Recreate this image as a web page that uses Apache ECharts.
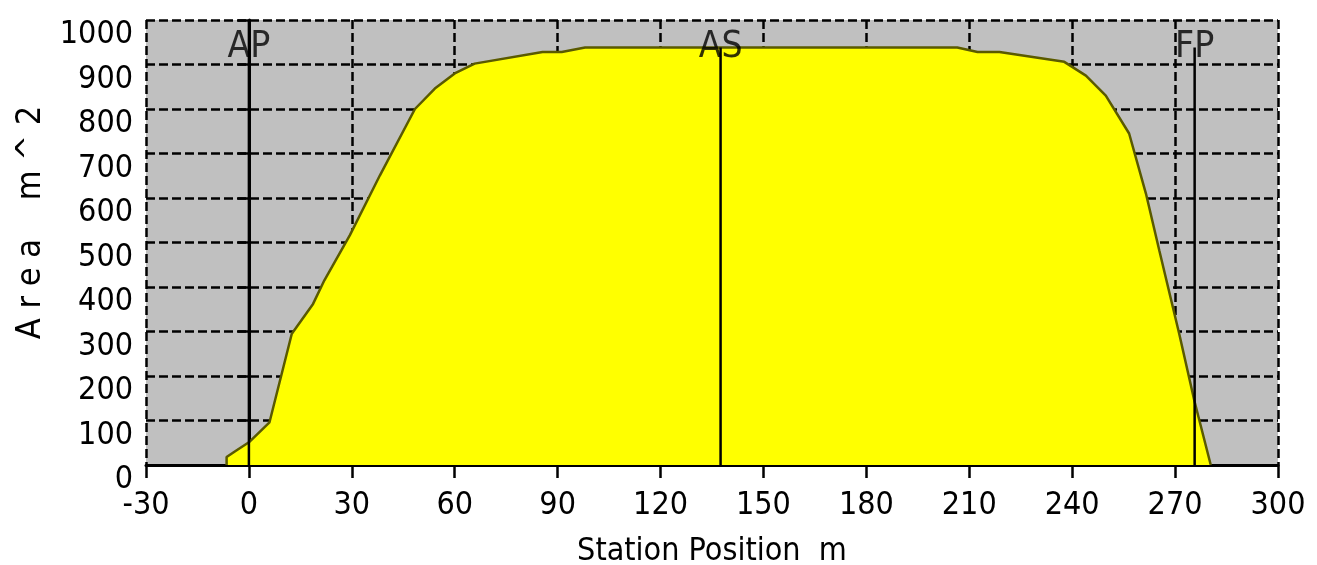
<!DOCTYPE html>
<html>
<head>
<meta charset="utf-8">
<script src="https://cdn.jsdelivr.net/npm/echarts@6/dist/echarts.min.js"></script>
<style>html,body{margin:0;padding:0;background:#fff}#c{width:1317px;height:565px}</style>
</head>
<body>
<div id="c"></div>
<script>
// Area curve: station position (m) and sectional area (m^2)
const stationX = [-6.5, -6.5, -4, 0, 6, 12.5, 18.7, 22, 29.4, 38.2, 48.4, 54.2, 60, 65.8, 85.6, 91.2, 98, 206.5, 212.4, 218.8, 237.7, 244, 249.8, 256.6, 261.5, 265.4, 271.2, 275.6, 280.4];
const areaY    = [0, 18, 31, 51, 96, 295, 362, 415, 516, 651, 800, 846, 880, 902, 928, 928, 938, 938, 928, 928, 906, 875, 830, 745, 610, 482, 295, 145, 0];
// Reference markers
const markerNames = ['AP', 'AS', 'FP'];
const markerX     = [0, 137.5, 275.7];
const markerTop   = [1000, 938, 938];
const markerLabelY = [938, 938, 938];
// Axis ticks
const xTicks = [-30, 0, 30, 60, 90, 120, 150, 180, 210, 240, 270, 300];
const yTicks = [0, 100, 200, 300, 400, 500, 600, 700, 800, 900, 1000];

const FONT = '"DejaVu Sans Condensed", "Liberation Sans", sans-serif';
const FS = 32;

const chart = echarts.init(document.getElementById('c'), null, {renderer: 'canvas'});

const series = [{
  type: 'line',
  data: stationX.map((x, i) => [x, areaY[i]]),
  symbol: 'none',
  lineStyle: {color: '#5a5a00', width: 2.5},
  areaStyle: {color: '#ffff00', opacity: 1},
  silent: true,
  z: 2
}];
markerNames.forEach((n, i) => {
  series.push({
    type: 'line',
    data: [[markerX[i], 0], [markerX[i], markerTop[i]]],
    symbol: 'none',
    lineStyle: {color: '#000', width: 2.5},
    silent: true,
    z: 3
  });
  series.push({
    type: 'scatter',
    data: [[markerX[i], markerLabelY[i]]],
    symbolSize: 0,
    itemStyle: {color: '#000'},
    silent: true,
    label: {show: true, position: [0, 0], align: 'center', verticalAlign: 'middle', formatter: n,
            color: '#000', textBorderWidth: 0, fontFamily: FONT, fontSize: 37},
    z: 4
  });
});

chart.setOption({
  animation: false,
  backgroundColor: '#fff',
  grid: {left: 146, right: 39, top: 20, bottom: 100, show: true, backgroundColor: '#c0c0c0', borderWidth: 0,
         containLabel: false, outerBoundsMode: 'none'},
  xAxis: {
    type: 'value', min: xTicks[0], max: xTicks[xTicks.length - 1], interval: 30,
    name: 'Station Position  m', nameLocation: 'middle', nameGap: 71,
    nameTextStyle: {fontFamily: FONT, fontSize: FS, color: '#000'},
    axisLine: {show: true, onZero: false, lineStyle: {color: '#000', width: 3}},
    axisTick: {show: true, length: 13, lineStyle: {color: '#000', width: 2.5}},
    axisLabel: {fontFamily: FONT, fontSize: FS, color: '#000', margin: 25, showMinLabel: true, showMaxLabel: true,
                formatter: v => String(v)},
    splitLine: {show: true, lineStyle: {color: '#000', width: 2.5, type: [9, 4]}}
  },
  yAxis: {
    type: 'value', min: yTicks[0], max: yTicks[yTicks.length - 1], interval: 100,
    name: 'A r e a    m ^ 2', nameLocation: 'middle', nameGap: 98, nameRotate: 90,
    nameTextStyle: {fontFamily: FONT, fontSize: 34, color: '#000', padding: [0, 0, 0, 40]},
    axisLine: {show: true, lineStyle: {color: '#000', width: 3}},
    axisTick: {show: true, length: 11, lineStyle: {color: '#000', width: 2.5}},
    axisLabel: {color: '#000', margin: 13, showMinLabel: true, showMaxLabel: true,
                formatter: v => '{a|' + v + '}',
                rich: {a: {fontFamily: FONT, fontSize: FS, color: '#000', padding: [30, 0, 0, 0]}}},
    splitLine: {show: true, lineStyle: {color: '#000', width: 2.5, type: [9, 4]}}
  },
  series: series
});
</script>
</body>
</html>
